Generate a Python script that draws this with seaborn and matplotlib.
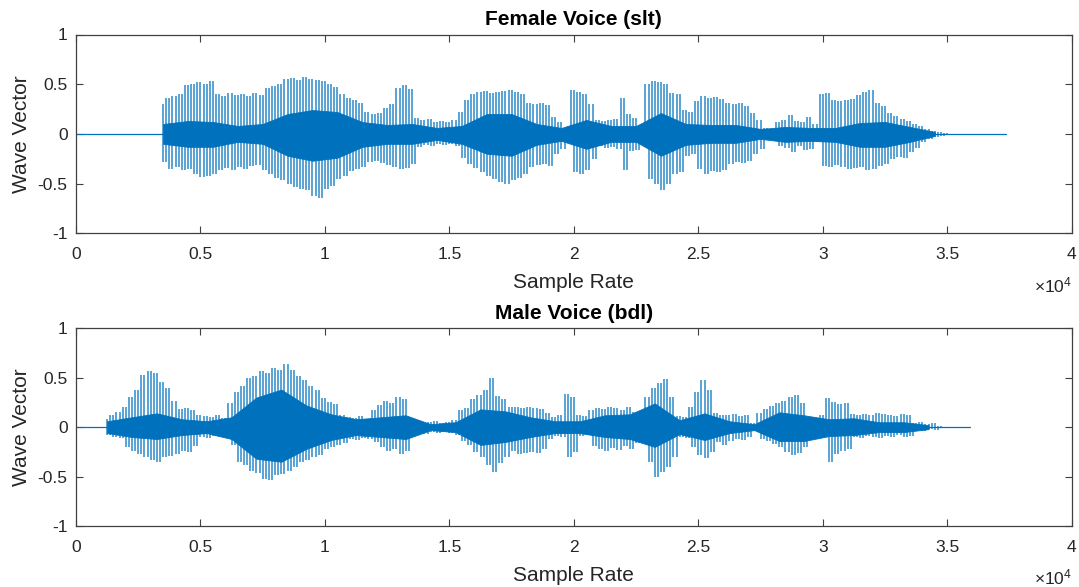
import numpy as np
import pandas as pd
import matplotlib
matplotlib.use("Agg")
import matplotlib.pyplot as plt
from matplotlib.ticker import FuncFormatter
import seaborn as sns

# ---------------------------------------------------------------- data
# Peak envelopes of each recording, one value every STEP samples.
# Upper peaks sit on the grid, troughs half a step later.
STEP = 250

female_start = 3500        # first voiced sample
female_end = 37350         # last sample of the recording
female_upper = [
    0.30, 0.36, 0.38, 0.40, 0.49, 0.50, 0.52, 0.50,
    0.53, 0.40, 0.38, 0.41, 0.39, 0.40, 0.38, 0.41,
    0.39, 0.46, 0.48, 0.50, 0.55, 0.56, 0.54, 0.57,
    0.55, 0.54, 0.53, 0.50, 0.47, 0.40, 0.36, 0.34,
    0.31, 0.22, 0.20, 0.21, 0.26, 0.30, 0.46, 0.49,
    0.45, 0.16, 0.14, 0.15, 0.12, 0.13, 0.12, 0.14,
    0.22, 0.34, 0.40, 0.42, 0.43, 0.41, 0.42, 0.43,
    0.44, 0.42, 0.40, 0.31, 0.30, 0.31, 0.29, 0.17,
    0.12, 0.06, 0.44, 0.42, 0.40, 0.30, 0.14, 0.13,
    0.14, 0.15, 0.36, 0.20, 0.16, 0.05, 0.50, 0.53,
    0.52, 0.50, 0.41, 0.40, 0.24, 0.22, 0.33, 0.38,
    0.36, 0.37, 0.35, 0.31, 0.30, 0.31, 0.28, 0.21,
    0.14, 0.06, 0.05, 0.12, 0.14, 0.19, 0.13, 0.12,
    0.17, 0.10, 0.40, 0.41, 0.34, 0.33, 0.34, 0.35,
    0.39, 0.42, 0.44, 0.31, 0.28, 0.21, 0.18, 0.15,
    0.13, 0.10, 0.08, 0.05, 0.03, 0.02, 0.01,
]
female_lower = [
    -0.28, -0.35, -0.33, -0.36, -0.35, -0.40, -0.43, -0.42,
    -0.40, -0.36, -0.34, -0.36, -0.33, -0.35, -0.32, -0.31,
    -0.36, -0.40, -0.44, -0.46, -0.50, -0.53, -0.55, -0.56,
    -0.62, -0.64, -0.55, -0.52, -0.45, -0.42, -0.37, -0.35,
    -0.33, -0.28, -0.27, -0.29, -0.31, -0.33, -0.35, -0.34,
    -0.30, -0.13, -0.11, -0.12, -0.10, -0.11, -0.10, -0.12,
    -0.24, -0.30, -0.34, -0.38, -0.42, -0.45, -0.48, -0.50,
    -0.46, -0.44, -0.40, -0.33, -0.31, -0.30, -0.32, -0.20,
    -0.15, -0.08, -0.38, -0.40, -0.36, -0.25, -0.12, -0.14,
    -0.13, -0.15, -0.36, -0.17, -0.16, -0.05, -0.45, -0.50,
    -0.56, -0.50, -0.40, -0.38, -0.22, -0.20, -0.35, -0.40,
    -0.37, -0.38, -0.36, -0.30, -0.28, -0.29, -0.27, -0.20,
    -0.15, -0.05, -0.05, -0.12, -0.14, -0.18, -0.12, -0.16,
    -0.15, -0.08, -0.32, -0.33, -0.31, -0.33, -0.35, -0.34,
    -0.33, -0.36, -0.35, -0.32, -0.30, -0.25, -0.23, -0.24,
    -0.18, -0.14, -0.08, -0.05, -0.03, -0.02, -0.01,
]
# dense core of the waveform, one value every 1000 samples
CORE_STEP = 1000
female_core_upper = [
    0.10, 0.13, 0.12, 0.08, 0.10, 0.20, 0.24, 0.22,
    0.12, 0.09, 0.10, 0.06, 0.08, 0.20, 0.20, 0.10,
    0.06, 0.14, 0.08, 0.08, 0.21, 0.10, 0.09, 0.09,
    0.05, 0.07, 0.06, 0.06, 0.11, 0.12, 0.07, 0.02,
]
female_core_lower = [
    -0.10, -0.13, -0.13, -0.08, -0.10, -0.22, -0.27, -0.24,
    -0.13, -0.10, -0.10, -0.06, -0.10, -0.20, -0.22, -0.11,
    -0.07, -0.15, -0.08, -0.08, -0.22, -0.11, -0.09, -0.09,
    -0.05, -0.08, -0.07, -0.08, -0.13, -0.13, -0.08, -0.02,
]

male_start = 1250
male_end = 35900
male_upper = [
    0.08, 0.12, 0.15, 0.20, 0.30, 0.38, 0.53, 0.57,
    0.55, 0.46, 0.40, 0.26, 0.18, 0.19, 0.17, 0.12,
    0.11, 0.10, 0.12, 0.09, 0.24, 0.36, 0.42, 0.50,
    0.52, 0.57, 0.55, 0.60, 0.58, 0.64, 0.58, 0.52,
    0.48, 0.42, 0.38, 0.29, 0.25, 0.23, 0.12, 0.10,
    0.09, 0.11, 0.08, 0.17, 0.22, 0.26, 0.24, 0.30,
    0.28, 0.05, 0.06, 0.04, 0.05, 0.06, 0.04, 0.05,
    0.07, 0.17, 0.19, 0.28, 0.33, 0.38, 0.50, 0.32,
    0.28, 0.20, 0.20, 0.19, 0.20, 0.19, 0.18, 0.14,
    0.10, 0.12, 0.34, 0.30, 0.12, 0.11, 0.17, 0.19,
    0.18, 0.20, 0.19, 0.17, 0.20, 0.15, 0.05, 0.30,
    0.40, 0.45, 0.49, 0.30, 0.11, 0.10, 0.20, 0.36,
    0.48, 0.38, 0.14, 0.12, 0.12, 0.13, 0.11, 0.12,
    0.04, 0.14, 0.18, 0.21, 0.24, 0.26, 0.30, 0.33,
    0.24, 0.09, 0.08, 0.12, 0.29, 0.25, 0.23, 0.24,
    0.13, 0.12, 0.13, 0.12, 0.14, 0.13, 0.12, 0.11,
    0.13, 0.12, 0.04, 0.05, 0.03, 0.04, 0.01,
]
male_lower = [
    -0.08, -0.10, -0.11, -0.20, -0.24, -0.27, -0.30, -0.33,
    -0.35, -0.30, -0.29, -0.27, -0.24, -0.25, -0.19, -0.10,
    -0.11, -0.09, -0.10, -0.06, -0.18, -0.35, -0.38, -0.44,
    -0.46, -0.52, -0.53, -0.48, -0.47, -0.44, -0.40, -0.35,
    -0.33, -0.30, -0.28, -0.22, -0.20, -0.18, -0.16, -0.12,
    -0.13, -0.11, -0.12, -0.15, -0.20, -0.24, -0.22, -0.27,
    -0.24, -0.06, -0.05, -0.07, -0.05, -0.06, -0.05, -0.06,
    -0.08, -0.14, -0.18, -0.25, -0.30, -0.38, -0.45, -0.36,
    -0.30, -0.24, -0.27, -0.26, -0.25, -0.26, -0.22, -0.12,
    -0.09, -0.10, -0.30, -0.25, -0.09, -0.08, -0.19, -0.22,
    -0.24, -0.21, -0.23, -0.19, -0.22, -0.16, -0.05, -0.35,
    -0.50, -0.45, -0.40, -0.30, -0.10, -0.11, -0.20, -0.28,
    -0.31, -0.25, -0.15, -0.18, -0.14, -0.12, -0.13, -0.10,
    -0.04, -0.12, -0.14, -0.17, -0.20, -0.25, -0.28, -0.26,
    -0.20, -0.08, -0.07, -0.09, -0.35, -0.27, -0.24, -0.22,
    -0.10, -0.11, -0.09, -0.10, -0.11, -0.09, -0.10, -0.08,
    -0.10, -0.09, -0.03, -0.04, -0.02, -0.03, -0.01,
]
male_core_upper = [
    0.06, 0.10, 0.14, 0.08, 0.06, 0.10, 0.30, 0.38,
    0.22, 0.13, 0.08, 0.10, 0.12, 0.03, 0.05, 0.18,
    0.16, 0.10, 0.06, 0.06, 0.12, 0.13, 0.24, 0.07,
    0.14, 0.06, 0.03, 0.15, 0.12, 0.08, 0.09, 0.05,
    0.05, 0.02,
]
male_core_lower = [
    -0.06, -0.10, -0.12, -0.08, -0.06, -0.12, -0.32, -0.35,
    -0.22, -0.13, -0.08, -0.10, -0.12, -0.03, -0.05, -0.18,
    -0.15, -0.10, -0.06, -0.06, -0.10, -0.12, -0.20, -0.07,
    -0.13, -0.06, -0.03, -0.14, -0.14, -0.09, -0.08, -0.05,
    -0.05, -0.02,
]

titles = ["Female Voice (slt)", "Male Voice (bdl)"]
x_label = "Sample Rate"
y_label = "Wave Vector"
x_ticks = [0, 5000, 10000, 15000, 20000, 25000, 30000, 35000, 40000]
y_ticks = [-1, -0.5, 0, 0.5, 1]

# ---------------------------------------------------------------- style
sns.set_theme(style="ticks")
plt.rcParams["font.family"] = ["Liberation Sans", "DejaVu Sans"]
plt.rcParams["axes.unicode_minus"] = False
plt.rcParams["mathtext.fontset"] = "custom"
plt.rcParams["mathtext.rm"] = "Liberation Sans"
plt.rcParams["mathtext.it"] = "Liberation Sans"

WAVE = "#0072BD"
INK = "#262626"
EDGE = "#404040"


def swing_strokes(start, upper, lower):
    """Vertical strokes for every swing between neighbouring extremes:
    peak i -> trough i (on the grid), trough i -> peak i+1 (half a step on)."""
    upper = np.asarray(upper)
    lower = np.asarray(lower)
    assert len(upper) == len(lower)
    pos = start + STEP * np.arange(len(upper))
    xs = np.concatenate([pos, pos[:-1] + STEP / 2])
    lo = np.concatenate([lower, lower[:-1]])
    hi = np.concatenate([upper, upper[1:]])
    return xs, lo, hi


def core_arrays(start, cu, cl):
    cu = np.asarray(cu)
    cl = np.asarray(cl)
    assert len(cu) == len(cl)
    pos = start + CORE_STEP * np.arange(len(cu))
    return pos, cu, cl


fig = plt.figure(figsize=(10.79, 5.87), dpi=100)
W, H = 1079, 587
axes_px = [(76, 34.5, 1071.7, 233.3), (76, 328.3, 1071.7, 526.0)]

datasets = [
    (female_start, female_end, female_upper, female_lower,
     female_core_upper, female_core_lower),
    (male_start, male_end, male_upper, male_lower,
     male_core_upper, male_core_lower),
]

for (l, t, r, b), title, ds in zip(axes_px, titles, datasets):
    ax = fig.add_axes([l / W, 1 - b / H, (r - l) / W, (b - t) / H])
    start, end, up, lo, cu, cl = ds

    # silent baseline over the whole recording
    base = pd.DataFrame({"sample": [0, end], "amp": [0.0, 0.0]})
    sns.lineplot(data=base, x="sample", y="amp", color=WAVE, linewidth=0.9,
                 ax=ax, zorder=1)

    xs, slo, shi = swing_strokes(start, up, lo)
    ax.vlines(xs, slo, shi, color=WAVE, alpha=0.7, linewidth=1.3, zorder=2)

    cpos, cup, clo = core_arrays(start, cu, cl)
    ax.fill_between(cpos, clo, cup, color=WAVE, linewidth=0.6,
                    edgecolor=WAVE, zorder=3)

    ax.set_xlim(0, 40000)
    ax.set_ylim(-1, 1)
    ax.set_xticks(x_ticks)
    ax.set_yticks(y_ticks)
    ax.xaxis.set_major_formatter(FuncFormatter(lambda v, _: f"{v / 1e4:g}"))
    ax.yaxis.set_major_formatter(FuncFormatter(lambda v, _: f"{v:g}"))
    ax.tick_params(direction="in", top=True, right=True, length=5,
                   width=0.8, color=EDGE, labelcolor=INK, labelsize=12.5)
    ax.tick_params(axis="x", pad=10)
    ax.tick_params(axis="y", pad=6)
    for sp in ax.spines.values():
        sp.set_visible(True)
        sp.set_color(EDGE)
        sp.set_linewidth(0.9)
    ax.set_xlabel(x_label, fontsize=15, color=INK, labelpad=8)
    ax.set_ylabel(y_label, fontsize=15, color=INK, labelpad=5)
    ax.set_title(title, fontsize=15, fontweight="bold", color="black", pad=7)
    ax.text(1.0, -0.262, r"$\times\mathregular{10^{4}}$", transform=ax.transAxes,
            ha="right", va="center", fontsize=12.5, color=INK)

fig.savefig("out.png", dpi=100)
